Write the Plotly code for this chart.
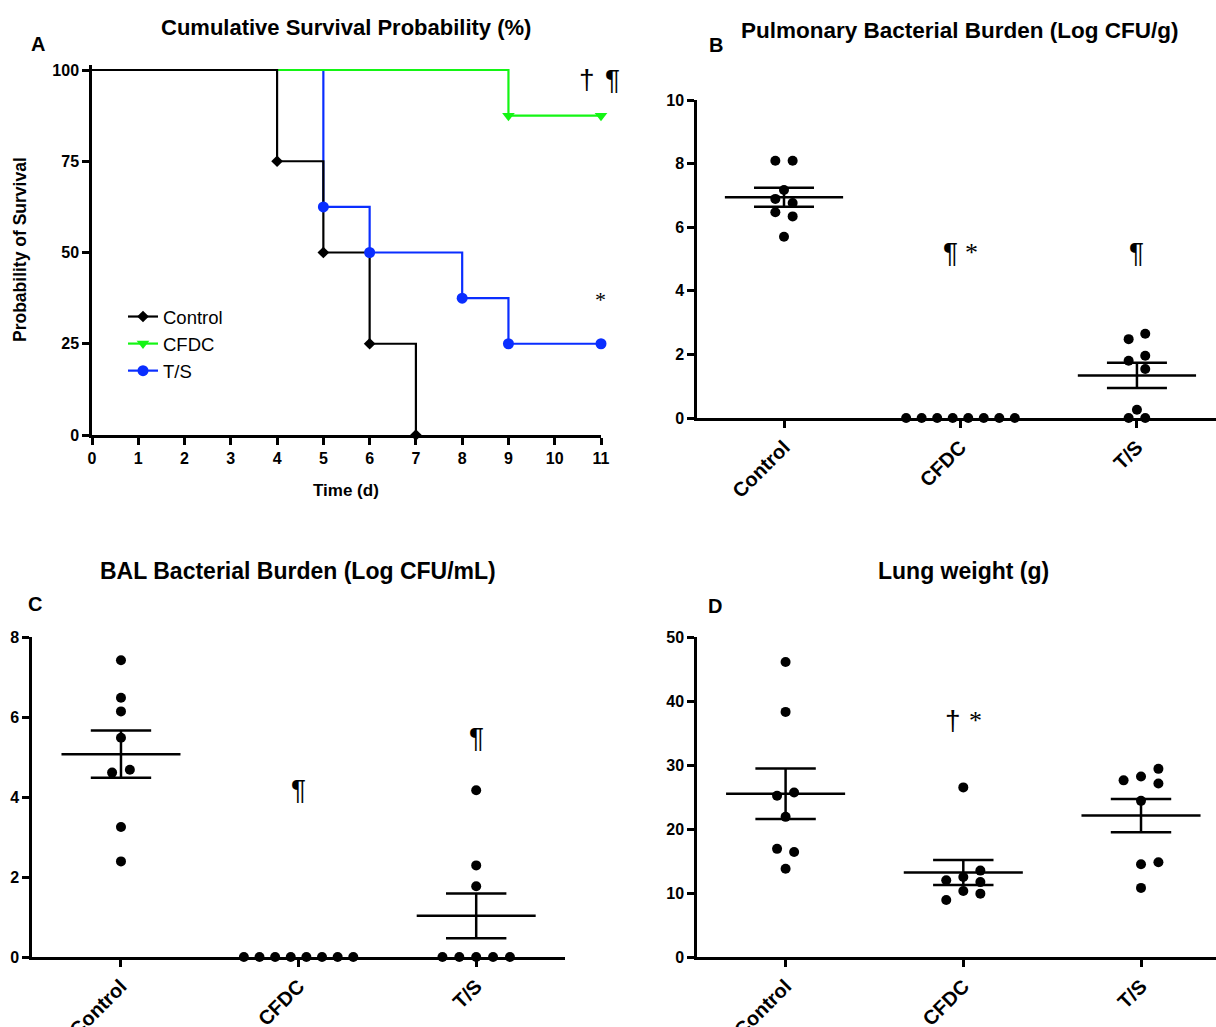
import plotly.graph_objects as go

W, H = 1216, 1027

# ---------------- Data ----------------
groups = ["Control", "CFDC", "T/S"]

# Panel A: Kaplan-Meier survival (%)
ctrl_days = [0, 4, 5, 6, 7]
ctrl_surv = [100, 75, 50, 25, 0]
cfdc_days = [0, 9, 11]
cfdc_surv = [100, 87.5, 87.5]
ts_days = [0, 5, 6, 8, 9, 11]
ts_surv = [100, 62.5, 50, 37.5, 25, 25]
day_ticks = list(range(0, 12))
surv_ticks = [0, 25, 50, 75, 100]

# Panel B: pulmonary bacterial burden (log CFU/g)
b_control = [8.09, 8.09, 7.17, 6.89, 6.76, 6.47, 6.34, 5.70]
b_cfdc = [0, 0, 0, 0, 0, 0, 0, 0]
b_ts = [2.65, 2.48, 1.96, 1.80, 1.54, 0.26, 0, 0]
b_mean = [6.94, 0, 1.34]
b_sem = [0.30, 0, 0.40]

# Panel C: BAL bacterial burden (log CFU/mL)
c_control = [7.42, 6.48, 6.14, 5.48, 4.68, 4.61, 3.25, 2.39]
c_cfdc = [0, 0, 0, 0, 0, 0, 0, 0]
c_ts = [4.17, 2.29, 1.77, 0, 0, 0, 0, 0]
c_mean = [5.07, 0, 1.03]
c_sem = [0.59, 0, 0.56]

# Panel D: lung weight (g)
d_control = [46.1, 38.3, 25.7, 25.2, 21.9, 16.9, 16.4, 13.8]
d_cfdc = [26.5, 13.5, 12.5, 12.0, 11.7, 10.3, 9.9, 8.9]
d_ts = [29.4, 28.2, 27.6, 27.1, 24.4, 14.8, 14.5, 10.8]
d_mean = [25.5, 13.2, 22.1]
d_sem = [3.95, 1.95, 2.6]

# ---------------- Layout helpers (dot spread within category) ----------------
spread8 = [-0.308, -0.22, -0.132, -0.044, 0.044, 0.132, 0.22, 0.308]
b_off = [
    [-0.049, 0.049, 0, -0.049, 0.049, -0.049, 0.049, 0],
    spread8,
    [0.047, -0.047, 0.047, -0.047, 0.047, 0, -0.047, 0.047],
]
c_off = [
    [0, 0, 0, 0, 0.05, -0.05, 0, 0],
    spread8,
    [0, 0, 0, -0.19, -0.095, 0, 0.095, 0.19],
]
d_off = [
    [0, 0, 0.048, -0.048, 0, -0.048, 0.048, 0],
    [0, 0.096, 0, -0.096, 0.096, 0, 0.096, -0.096],
    [0.098, 0, -0.098, 0.098, 0, 0.098, 0, 0],
]

BLACK = "#000000"
GREEN = "#14F514"
BLUE = "#0A2EFF"
SANS = "Liberation Sans, Arial, sans-serif"
SERIF = "Liberation Serif, DejaVu Serif, serif"

fig = go.Figure()

# ---------------- Panel A ----------------
series = [
    ("T/S", ts_days, ts_surv, BLUE, "circle", 11),
    ("CFDC", cfdc_days, cfdc_surv, GREEN, "triangle-down", 11),
    ("Control", ctrl_days, ctrl_surv, BLACK, "diamond", 9),
]
for name, xs, ys, col, sym, sz in series:
    fig.add_trace(go.Scatter(x=xs, y=ys, mode="lines", line=dict(color=col, width=2.2, shape="hv"),
                             showlegend=False, xaxis="x", yaxis="y", hoverinfo="skip"))
for name, xs, ys, col, sym, sz in reversed(series):
    fig.add_trace(go.Scatter(x=xs[1:], y=ys[1:], mode="markers",
                             marker=dict(color=col, symbol=sym, size=sz),
                             showlegend=False, cliponaxis=False, xaxis="x", yaxis="y"))
for name, xs, ys, col, sym, sz in reversed(series):
    fig.add_trace(go.Scatter(x=[None], y=[None], mode="lines+markers", name=name,
                             line=dict(color=col, width=2.2),
                             marker=dict(color=col, symbol=sym, size=sz),
                             xaxis="x", yaxis="y"))

# ---------------- Strip panels ----------------
def add_strip(xa, ya, datasets, offsets, means, sems):
    for gi, (vals, offs) in enumerate(zip(datasets, offsets)):
        fig.add_trace(go.Scatter(
            x=[gi + o for o in offs], y=vals, mode="markers",
            marker=dict(color=BLACK, size=10), cliponaxis=False,
            showlegend=False, xaxis=xa, yaxis=ya))
    lx, ly = [], []
    for gi, (m, s) in enumerate(zip(means, sems)):
        if m == 0 and s == 0:
            continue
        lx += [gi - 0.335, gi + 0.335, None]
        ly += [m, m, None]
        lx += [gi, gi, None]
        ly += [m - s, m + s, None]
        lx += [gi - 0.17, gi + 0.17, None, gi - 0.17, gi + 0.17, None]
        ly += [m + s, m + s, None, m - s, m - s, None]
    fig.add_trace(go.Scatter(x=lx, y=ly, mode="lines", line=dict(color=BLACK, width=2.5),
                             showlegend=False, xaxis=xa, yaxis=ya, hoverinfo="skip"))

add_strip("x2", "y2", [b_control, b_cfdc, b_ts], b_off, b_mean, b_sem)
add_strip("x3", "y3", [c_control, c_cfdc, c_ts], c_off, c_mean, c_sem)
add_strip("x4", "y4", [d_control, d_cfdc, d_ts], d_off, d_mean, d_sem)

# ---------------- Axes ----------------
def px_x(p):
    return p / W

def px_y(p):
    return 1 - p / H

tickfont = dict(family=SANS, size=16, color=BLACK, weight=700)
catfont = dict(family=SANS, size=20, color=BLACK, weight=700)
axis_common = dict(showline=True, linecolor=BLACK, linewidth=2.5, ticks="outside",
                   ticklen=7, tickwidth=2.5, tickcolor=BLACK, showgrid=False,
                   zeroline=False, fixedrange=True, automargin=False)

layout = dict(
    template="none",
    width=W, height=H, margin=dict(l=0, r=0, t=0, b=0, pad=0, autoexpand=False),
    paper_bgcolor="white", plot_bgcolor="white",
    font=dict(family=SANS, color=BLACK),
    showlegend=True,
    legend=dict(x=px_x(123), y=px_y(298), xanchor="left", yanchor="top",
                font=dict(family=SANS, size=18.5, color=BLACK),
                bgcolor="rgba(0,0,0,0)", borderwidth=0, itemwidth=30, tracegroupgap=0),
)

# Panel A axes
layout["xaxis"] = dict(axis_common, domain=[px_x(92), px_x(601)], range=[0, 11],
                       tickvals=day_ticks, tickfont=tickfont, anchor="y")
layout["yaxis"] = dict(axis_common, domain=[px_y(435), px_y(435 - 365 * 1.015)], range=[0, 101.5],
                       tickvals=surv_ticks, tickfont=tickfont, anchor="x")

# Panel B axes
layout["xaxis2"] = dict(axis_common, domain=[px_x(697), 1.0], range=[-0.493, 2.448],
                        tickvals=[0, 1, 2], ticktext=groups, tickangle=-45,
                        tickfont=catfont, anchor="y2")
layout["yaxis2"] = dict(axis_common, domain=[px_y(418), px_y(100)], range=[0, 10],
                        tickvals=[0, 2, 4, 6, 8, 10], tickfont=tickfont, anchor="x2")

# Panel C axes
layout["xaxis3"] = dict(axis_common, domain=[px_x(32), px_x(565)], range=[-0.501, 2.50],
                        tickvals=[0, 1, 2], ticktext=groups, tickangle=-45,
                        tickfont=catfont, anchor="y3")
layout["yaxis3"] = dict(axis_common, domain=[px_y(957), px_y(637)], range=[0, 8],
                        tickvals=[0, 2, 4, 6, 8], tickfont=tickfont, anchor="x3")

# Panel D axes
layout["xaxis4"] = dict(axis_common, domain=[px_x(697), 1.0], range=[-0.4985, 2.422],
                        tickvals=[0, 1, 2], ticktext=groups, tickangle=-45,
                        tickfont=catfont, anchor="y4")
layout["yaxis4"] = dict(axis_common, domain=[px_y(957), px_y(637)], range=[0, 50],
                        tickvals=[0, 10, 20, 30, 40, 50], tickfont=tickfont, anchor="x4")

fig.update_layout(**layout)

# ---------------- Text annotations ----------------
def ptext(txt, x, y, size, bold=True, angle=0, family=SANS):
    fig.add_annotation(text=txt, x=px_x(x), y=px_y(y), xref="paper", yref="paper",
                       showarrow=False, textangle=angle, xanchor="center", yanchor="middle",
                       font=dict(family=family, size=size, color=BLACK, weight=700 if bold else 400))

ptext("Cumulative Survival Probability (%)", 346, 27, 22)
ptext("Pulmonary Bacterial Burden (Log CFU/g)", 960, 31, 22.5)
ptext("BAL Bacterial Burden (Log CFU/mL)", 298, 571, 23)
ptext("Lung weight (g)", 963, 571, 23)
ptext("A", 38, 44, 20)
ptext("B", 716, 45, 20)
ptext("C", 35, 604, 20)
ptext("D", 715, 606, 20)
ptext("Probability of Survival", 20, 250, 17.5, angle=-90)
ptext("Time (d)", 346, 491, 17)

def dtext(txt, x, y, xa, ya, size=28, family=SANS, xshift=0):
    fig.add_annotation(text=txt, x=x, y=y, xref=xa, yref=ya, showarrow=False,
                       xanchor="center", yanchor="middle", xshift=xshift,
                       font=dict(family=family, size=size, color=BLACK))

# significance marks
dtext("†", 10.70, 97.3, "x", "y")
dtext("¶", 11.0, 97.3, "x", "y", xshift=11)
dtext("*", 10.98, 37, "x", "y", 22, SERIF)
dtext("¶", 0.946, 5.19, "x2", "y2")
dtext("*", 1.065, 5.19, "x2", "y2", 26, SERIF)
dtext("¶", 2.0, 5.19, "x2", "y2")
dtext("¶", 1.0, 4.18, "x3", "y3")
dtext("¶", 2.0, 5.48, "x3", "y3")
dtext("†", 0.942, 37.0, "x4", "y4")
dtext("*", 1.066, 37.0, "x4", "y4", 26, SERIF)

fig.write_html(
    "out.html",
    config={"displayModeBar": False},
    post_script="document.body.style.margin='0';document.body.style.padding='0';"
                "document.body.style.overflow='hidden';",
)
